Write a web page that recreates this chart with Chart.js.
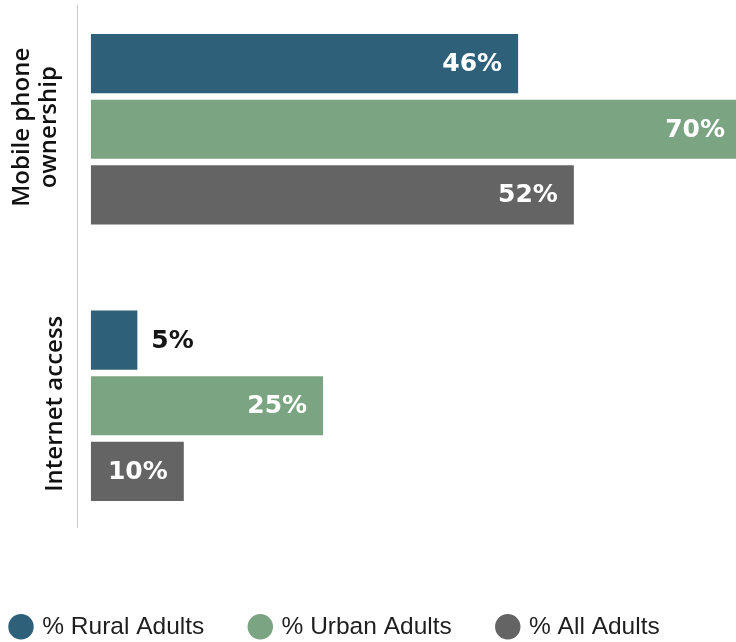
<!DOCTYPE html>
<html>
<head>
<meta charset="utf-8">
<script src="https://cdn.jsdelivr.net/npm/chart.js@4.4.1/dist/chart.umd.min.js"></script>
<style>
html, body { margin: 0; padding: 0; background: #fff; overflow: hidden; width: 736px; height: 642px; }
#wrap { position: relative; width: 736px; height: 642px; overflow: hidden; }
#chart { position: absolute; left: -35px; top: -9px; width: 776px; height: 658px; }
</style>
</head>
<body>
<div id="wrap"><canvas id="chart" width="776" height="658"></canvas></div>
<script>
// chart data
const categories = [['Mobile phone', 'ownership'], 'Internet access'];
const seriesNames = ['% Rural Adults', '% Urban Adults', '% All Adults'];
const ruralValues = [46, 5];
const urbanValues = [70, 25];
const allValues = [52, 10];
const seriesColors = ['#2e6179', '#7aa482', '#646464'];

// thin grey line left of the bars
const axisLine = {
    id: 'axisLine',
    beforeDatasetsDraw(chart) {
        const { ctx, chartArea } = chart;
        ctx.save();
        ctx.strokeStyle = '#c8c8c8';
        ctx.lineWidth = 1;
        ctx.beginPath();
        ctx.moveTo(chartArea.left + 0.5, chartArea.top + 14);
        ctx.lineTo(chartArea.left + 0.5, chartArea.bottom - 16);
        ctx.stroke();
        ctx.restore();
    }
};

// rotated category names
const categoryLabels = {
    id: 'categoryLabels',
    afterDraw(chart) {
        const { ctx, chartArea } = chart;
        const yScale = chart.scales.y;
        chart.data.labels.forEach((label, i) => {
            const lines = Array.isArray(label) ? label : [label];
            const yc = yScale.getPixelForValue(i);
            const gap = lines.length > 1 ? 21 : 15;
            ctx.save();
            ctx.translate(chartArea.left - gap, yc - 2);
            ctx.rotate(-Math.PI / 2);
            ctx.font = '600 24px "Open Sans"';
            ctx.fillStyle = '#111';
            ctx.textAlign = 'center';
            ctx.textBaseline = 'alphabetic';
            lines.forEach((line, j) => {
                ctx.fillText(line, 0, -(lines.length - 1 - j) * 27);
            });
            ctx.restore();
        });
    }
};

// value labels, inside the bar when they fit
const valueLabels = {
    id: 'valueLabels',
    afterDatasetsDraw(chart) {
        const ctx = chart.ctx;
        ctx.save();
        ctx.font = 'bold 25px "DejaVu Sans"';
        ctx.textBaseline = 'middle';
        chart.data.datasets.forEach((ds, di) => {
            const meta = chart.getDatasetMeta(di);
            meta.data.forEach((bar, i) => {
                const text = ds.data[i] + '%';
                const w = ctx.measureText(text).width;
                if (w + 30 < bar.x - bar.base) {
                    ctx.fillStyle = '#fff';
                    ctx.textAlign = 'right';
                    ctx.fillText(text, bar.x - 16, bar.y + 1);
                } else {
                    ctx.fillStyle = '#151515';
                    ctx.textAlign = 'left';
                    ctx.fillText(text, bar.x + 14, bar.y + 1);
                }
            });
        });
        ctx.restore();
    }
};

const ctx = document.getElementById('chart').getContext('2d');
new Chart(ctx, {
    type: 'bar',
    data: {
        labels: categories,
        datasets: [
            { label: seriesNames[0], data: ruralValues, backgroundColor: seriesColors[0] },
            { label: seriesNames[1], data: urbanValues, backgroundColor: seriesColors[1] },
            { label: seriesNames[2], data: allValues, backgroundColor: seriesColors[2] }
        ]
    },
    options: {
        indexAxis: 'y',
        responsive: false,
        animation: false,
        devicePixelRatio: 1,
        layout: { padding: 0 },
        datasets: {
            bar: { categoryPercentage: 0.712, barPercentage: 0.9, borderWidth: 0 }
        },
        plugins: {
            tooltip: { enabled: false },
            legend: {
                position: 'bottom',
                align: 'start',
                labels: {
                    usePointStyle: true,
                    pointStyle: 'circle',
                    boxWidth: 18,
                    boxHeight: 18,
                    padding: 47,
                    color: '#1e1e1e',
                    font: { family: '"Liberation Sans"', size: 24.5 }
                }
            }
        },
        scales: {
            x: {
                type: 'linear',
                min: -1.5,
                max: 70,
                grid: { display: false },
                border: { display: false },
                ticks: { display: false },
                afterFit: (s) => { s.height = 23.5; }
            },
            y: {
                type: 'category',
                offset: true,
                grid: { display: false },
                border: { display: false },
                ticks: { display: false },
                afterFit: (s) => { s.width = 112; }
            }
        }
    },
    plugins: [axisLine, categoryLabels, valueLabels]
});
</script>
</body>
</html>
